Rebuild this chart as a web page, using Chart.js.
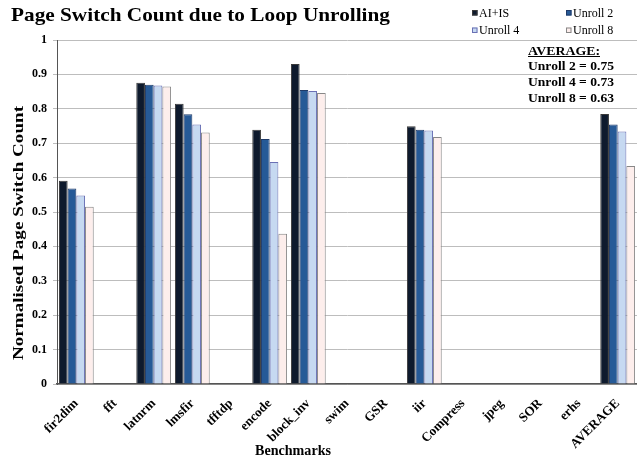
<!DOCTYPE html>
<html>
<head>
<meta charset="utf-8">
<script src="https://cdn.jsdelivr.net/npm/chart.js@4/dist/chart.umd.min.js"></script>
<style>
  html, body { margin: 0; padding: 0; background: #ffffff; }
  #wrap { width: 637px; height: 460px; position: relative; }
</style>
</head>
<body>
<div id="wrap"><canvas id="c" width="637" height="460"></canvas></div>
<script>
// Benchmarks on the x axis
const benchmarks = ['fir2dim', 'fft', 'latnrm', 'lmsfir', 'tfftdp', 'encode', 'block_inv',
  'swim', 'GSR', 'iir', 'Compress', 'jpeg', 'SOR', 'erhs', 'AVERAGE'];

// Normalised page switch count per configuration (null = no result)
const aiIs    = [0.591, null, 0.876, 0.815, null, 0.739, 0.930, null, null, 0.749, null, null, null, null, 0.785];
const unroll2 = [0.568, null, 0.870, 0.784, null, 0.712, 0.855, null, null, 0.739, null, null, null, null, 0.754];
const unroll4 = [0.548, null, 0.868, 0.754, null, 0.645, 0.852, null, null, 0.737, null, null, null, null, 0.734];
const unroll8 = [0.515, null, 0.865, 0.731, null, 0.437, 0.846, null, null, 0.718, null, null, null, null, 0.634];

const seriesNames = ['AI+IS', 'Unroll 2', 'Unroll 4', 'Unroll 8'];
const yTicks = [0, 0.1, 0.2, 0.3, 0.4, 0.5, 0.6, 0.7, 0.8, 0.9, 1];

const SERIF = "'Liberation Serif', 'Times New Roman', serif";
const avgIndex = benchmarks.indexOf('AVERAGE');

// Draw text stretched/squeezed horizontally to a given width
function fitText(ctx, text, x, y, width, align) {
  const w = ctx.measureText(text).width;
  const s = width / w;
  ctx.save();
  ctx.translate(x, y);
  ctx.scale(s, 1);
  ctx.textAlign = align || 'left';
  ctx.fillText(text, 0, 0);
  ctx.restore();
}

const decorations = {
  id: 'decorations',
  afterDraw(chart) {
    const ctx = chart.ctx;
    ctx.save();
    ctx.fillStyle = '#000';
    ctx.textBaseline = 'alphabetic';

    // Title
    ctx.font = 'bold 19px ' + SERIF;
    fitText(ctx, 'Page Switch Count due to Loop Unrolling', 11, 21, 379);

    // Legend (2 x 2)
    const spots = [[472, 16.5], [566, 16.5], [472, 34], [566, 34]];
    ctx.font = '12px ' + SERIF;
    chart.data.datasets.forEach((ds, i) => {
      const [lx, ly] = spots[i];
      ctx.fillStyle = ds.backgroundColor;
      ctx.fillRect(lx, ly - 6.5, 5.5, 5.5);
      ctx.strokeStyle = ds.borderColor;
      ctx.lineWidth = 1;
      ctx.strokeRect(lx + 0.5, ly - 6, 4.5, 4.5);
      ctx.fillStyle = '#000';
      ctx.fillText(ds.label, lx + 7, ly);
    });

    // Average summary box
    const avgs = [unroll2[avgIndex], unroll4[avgIndex], unroll8[avgIndex]];
    ctx.font = 'bold 13px ' + SERIF;
    fitText(ctx, 'AVERAGE:', 528, 54.5, 72);
    ctx.fillRect(528, 56, 72, 1);
    ['Unroll 2', 'Unroll 4', 'Unroll 8'].forEach((n, i) => {
      fitText(ctx, n + ' = ' + avgs[i].toFixed(2), 528, 70 + i * 15.9, 86);
    });

    // Axis titles
    ctx.font = 'bold 15px ' + SERIF;
    ctx.save();
    ctx.translate(23, 233);
    ctx.rotate(-Math.PI / 2);
    fitText(ctx, 'Normalised Page Switch Count', 0, 0, 254, 'center');
    ctx.restore();

    ctx.font = 'bold 14px ' + SERIF;
    fitText(ctx, 'Benchmarks', 293, 455, 76, 'center');
    ctx.restore();
  }
};

const chart = new Chart(document.getElementById('c'), {
  type: 'bar',
  data: {
    labels: benchmarks,
    datasets: [
      { label: seriesNames[0], data: aiIs,    backgroundColor: '#0e1a2d', borderColor: '#3a3a3a', borderWidth: 1 },
      { label: seriesNames[1], data: unroll2, backgroundColor: '#265a97', borderColor: '#1f3a68', borderWidth: 1 },
      { label: seriesNames[2], data: unroll4, backgroundColor: '#c6d9f1', borderColor: '#6a70b4', borderWidth: 1 },
      { label: seriesNames[3], data: unroll8, backgroundColor: '#fdeeec', borderColor: '#878787', borderWidth: 1 }
    ]
  },
  options: {
    responsive: false,
    devicePixelRatio: 1,
    animation: false,
    layout: { padding: { top: 40, left: 0, right: 0, bottom: 0 } },
    datasets: { bar: { categoryPercentage: 0.9, barPercentage: 1.0 } },
    plugins: { legend: { display: false }, tooltip: { enabled: false }, title: { display: false } },
    scales: {
      y: {
        min: 0, max: 1,
        afterBuildTicks(scale) { scale.ticks = yTicks.map(v => ({ value: v })); },
        afterFit(scale) { scale.width = 57; },
        ticks: {
          color: '#000',
          font: { family: SERIF, size: 12, weight: 'bold' },
          padding: 6,
          callback: v => (v === 0 || v === 1) ? String(v) : v.toFixed(1)
        },
        grid: { color: '#bdbdbd', lineWidth: 1, tickLength: 4 },
        border: { display: true, color: '#555555', width: 1 }
      },
      x: {
        afterFit(scale) { scale.height = 76; },
        ticks: {
          color: '#000',
          font: { family: SERIF, size: 13, weight: 'bold' },
          maxRotation: 45, minRotation: 45,
          autoSkip: false,
          padding: 4,
          labelOffset: 0
        },
        grid: { display: false },
        border: { display: true, color: '#555555', width: 1.5 }
      }
    }
  },
  plugins: [decorations]
});
</script>
</body>
</html>
